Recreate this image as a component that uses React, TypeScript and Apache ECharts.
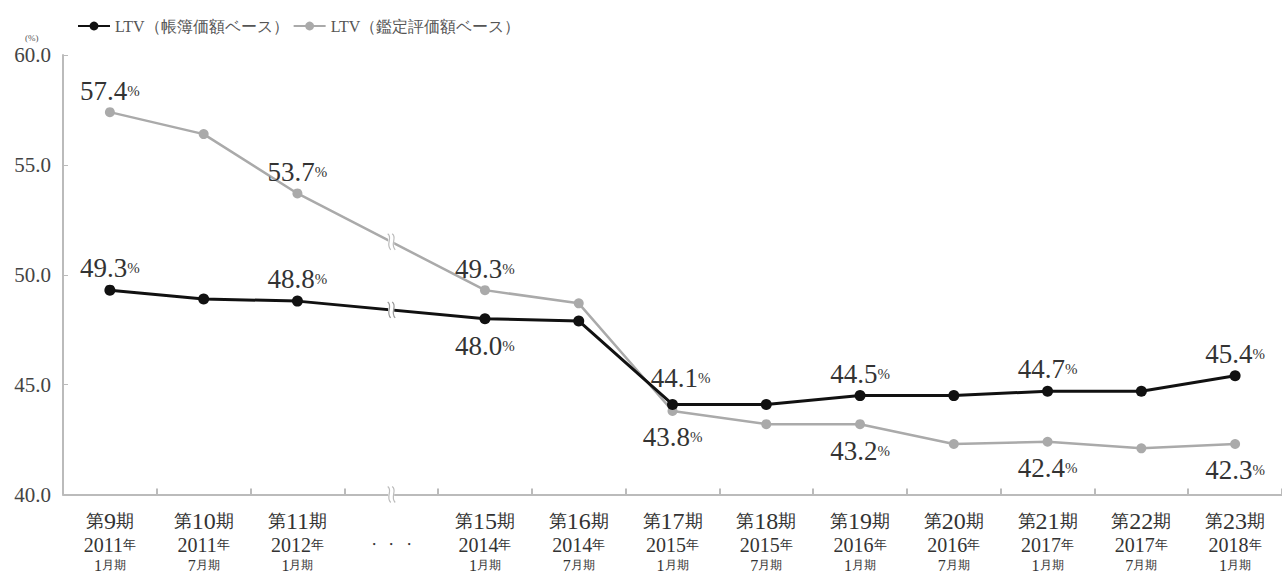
import React, { useEffect, useRef } from "react";
import * as echarts from "echarts";

const periods = ["第9期", "第10期", "第11期", "", "第15期", "第16期", "第17期", "第18期", "第19期", "第20期", "第21期", "第22期", "第23期"];
const years = ["2011年", "2011年", "2012年", "", "2014年", "2014年", "2015年", "2015年", "2016年", "2016年", "2017年", "2017年", "2018年"];
const months = ["1月期", "7月期", "1月期", "", "1月期", "7月期", "1月期", "7月期", "1月期", "7月期", "1月期", "7月期", "1月期"];
const bookLTV = [49.3, 48.9, 48.8, null, 48.0, 47.9, 44.1, 44.1, 44.5, 44.5, 44.7, 44.7, 45.4];
const appraisalLTV = [57.4, 56.4, 53.7, null, 49.3, 48.7, 43.8, 43.2, 43.2, 42.3, 42.4, 42.1, 42.3];
const bookLabelIdx = [0, 2, 4, 6, 8, 10, 12];
const bookLabelBelow = [4];
const appraisalLabelIdx = [0, 2, 4, 6, 8, 10, 12];
const appraisalLabelBelow = [6, 8, 10, 12];
const breakIdx = 3;
const yTicks = { min: 40, max: 60, interval: 5 };

const SERIF = "Liberation Serif";
const TXT = "#333";

echarts.graphic.registerShape(
  "breakS",
  echarts.graphic.extendPath("M -1.5 -8 C 4 -4, -4 2, 1.5 8 M 3 -8 C 8.5 -4, 0.5 2, 6 8", {})
);

function labelFor(idxs: number[], below: number[], shifted: number[] = []) {
  return (v: any, i: number) =>
    v == null
      ? v
      : idxs.includes(i)
      ? {
          value: v,
          label: {
            show: true,
            position: below.includes(i) ? "bottom" : "top",
            distance: below.includes(i) ? 8 : 3,
            offset: shifted.includes(i) ? [8, -4] : [0, 0],
          },
        }
      : v;
}

export default function App() {
  const ref = useRef<HTMLDivElement>(null);
  useEffect(() => {
    const chart = echarts.init(ref.current!, undefined, { renderer: "svg" });
    const richLabel = {
      n: { fontFamily: SERIF, fontSize: 27, color: TXT },
      p: { fontFamily: SERIF, fontSize: 15, color: TXT },
    };
    const labelCommon = {
      fontFamily: SERIF,
      fontSize: 27,
      color: TXT,
      formatter: (p: any) => `{n|${Number(p.value).toFixed(1)}}{p|%}`,
      rich: richLabel,
    };
    const baseGraphic = [
      {
        type: "text",
        left: 25,
        top: 33,
        style: { text: "(%)", fontFamily: SERIF, fontSize: 9, fill: "#555" },
      },
      {
        type: "rect",
        left: 1277,
        top: 40,
        shape: { width: 5, height: 460 },
        style: { fill: "#fff" },
      },
    ];
    chart.setOption({
      animation: false,
      backgroundColor: "#fff",
      textStyle: { fontFamily: SERIF },
      legend: {
        left: 72,
        top: 13,
        itemWidth: 32,
        itemHeight: 11,
        itemGap: 4,
        textStyle: { fontFamily: SERIF, fontSize: 16, color: "#555" },
        data: ["LTV（帳簿価額ベース）", "LTV（鑑定評価額ベース）"],
      },
      grid: { left: 63, top: 55, width: 1230, height: 440, containLabel: false },
      xAxis: {
        type: "category",
        data: periods.map((_, i) => i),
        boundaryGap: true,
        axisLine: { lineStyle: { color: "#bbb", width: 2 } },
        axisTick: { show: true, inside: true, length: 6, lineStyle: { color: "#bbb", width: 2 } },
        axisLabel: {
          margin: 14,
          interval: 0,
          fontFamily: SERIF,
          fontSize: 18,
          color: TXT,
          formatter: (v: any) => {
            const i = Number(v);
            if (i === breakIdx) return "{e| }\n{dots|・ ・ ・}\n{e2| }";
            const num = periods[i].replace("第", "").replace("期", "");
            const yr = years[i].replace("年", "");
            const mo = months[i].replace("月期", "");
            return `{a|第}{b|${num}}{a|期}\n{y|${yr}}{ys|年}\n{m|${mo}}{ms|月期}`;
          },
          rich: {
            a: { fontFamily: SERIF, fontSize: 18, color: TXT, lineHeight: 25 },
            b: { fontFamily: SERIF, fontSize: 24, color: TXT, lineHeight: 25 },
            y: { fontFamily: SERIF, fontSize: 20, color: TXT, lineHeight: 22 },
            ys: { fontFamily: SERIF, fontSize: 13, color: TXT, lineHeight: 22 },
            m: { fontFamily: SERIF, fontSize: 16, color: TXT, lineHeight: 19 },
            ms: { fontFamily: SERIF, fontSize: 12, color: TXT, lineHeight: 19 },
            e: { fontSize: 18, lineHeight: 25 },
            e2: { fontSize: 16, lineHeight: 19 },
            dots: { fontFamily: SERIF, fontSize: 14, color: TXT, lineHeight: 22 },
          },
        },
      },
      yAxis: {
        type: "value",
        min: yTicks.min,
        max: yTicks.max,
        interval: yTicks.interval,
        splitLine: { show: false },
        axisLine: { show: true, lineStyle: { color: "#bbb", width: 2 } },
        axisTick: { show: true, inside: true, length: 5, lineStyle: { color: "#bbb", width: 1 } },
        axisLabel: {
          margin: 12,
          fontFamily: SERIF,
          fontSize: 21,
          color: "#444",
          formatter: (v: number) => v.toFixed(1),
        },
      },
      graphic: baseGraphic,
      series: [
        {
          name: "LTV（帳簿価額ベース）",
          type: "line",
          data: bookLTV.map(labelFor(bookLabelIdx, bookLabelBelow, [6])),
          connectNulls: true,
          symbol: "circle",
          symbolSize: 11,
          itemStyle: { color: "#111" },
          lineStyle: { color: "#111", width: 3 },
          label: { show: false, ...labelCommon },
          z: 3,
        },
        {
          name: "LTV（鑑定評価額ベース）",
          type: "line",
          data: appraisalLTV.map(labelFor(appraisalLabelIdx, appraisalLabelBelow)),
          connectNulls: true,
          symbol: "circle",
          symbolSize: 10,
          itemStyle: { color: "#aaa" },
          lineStyle: { color: "#aaa", width: 2.5 },
          label: { show: false, ...labelCommon },
          z: 2,
        },
      ],
    });

    // break marks at the skipped slot, positioned via the chart's own scales
    const marks: any[] = [];
    const addBreak = (x: number, y: number, color: string) => {
      marks.push({
        type: "rect",
        x,
        y,
        shape: { x: -1, y: -9, width: 6, height: 18 },
        style: { fill: "#fff" },
        z: 100,
      });
      marks.push({
        type: "breakS",
        x,
        y,
        style: { fill: "none", stroke: color, lineWidth: 1.2 },
        z: 101,
      });
    };
    const midY = (arr: (number | null)[]) => {
      const a = chart.convertToPixel({ gridIndex: 0 }, [breakIdx - 1, arr[breakIdx - 1] as number]);
      const b = chart.convertToPixel({ gridIndex: 0 }, [breakIdx + 1, arr[breakIdx + 1] as number]);
      return [(a[0] + b[0]) / 2, (a[1] + b[1]) / 2];
    };
    const pB = midY(bookLTV);
    const pA = midY(appraisalLTV);
    const axisPt = chart.convertToPixel({ gridIndex: 0 }, [breakIdx, yTicks.min]);
    addBreak(pB[0] - 2, pB[1], "#999");
    addBreak(pA[0] - 2, pA[1], "#bbb");
    addBreak(axisPt[0] - 2, axisPt[1], "#bbb");
    chart.setOption({ graphic: [...baseGraphic, ...marks] }, { replaceMerge: ["graphic"] });

    return () => chart.dispose();
  }, []);
  return (
    <div
      ref={ref}
      style={{ position: "absolute", left: 0, top: 0, width: 1282, height: 573 }}
    />
  );
}
